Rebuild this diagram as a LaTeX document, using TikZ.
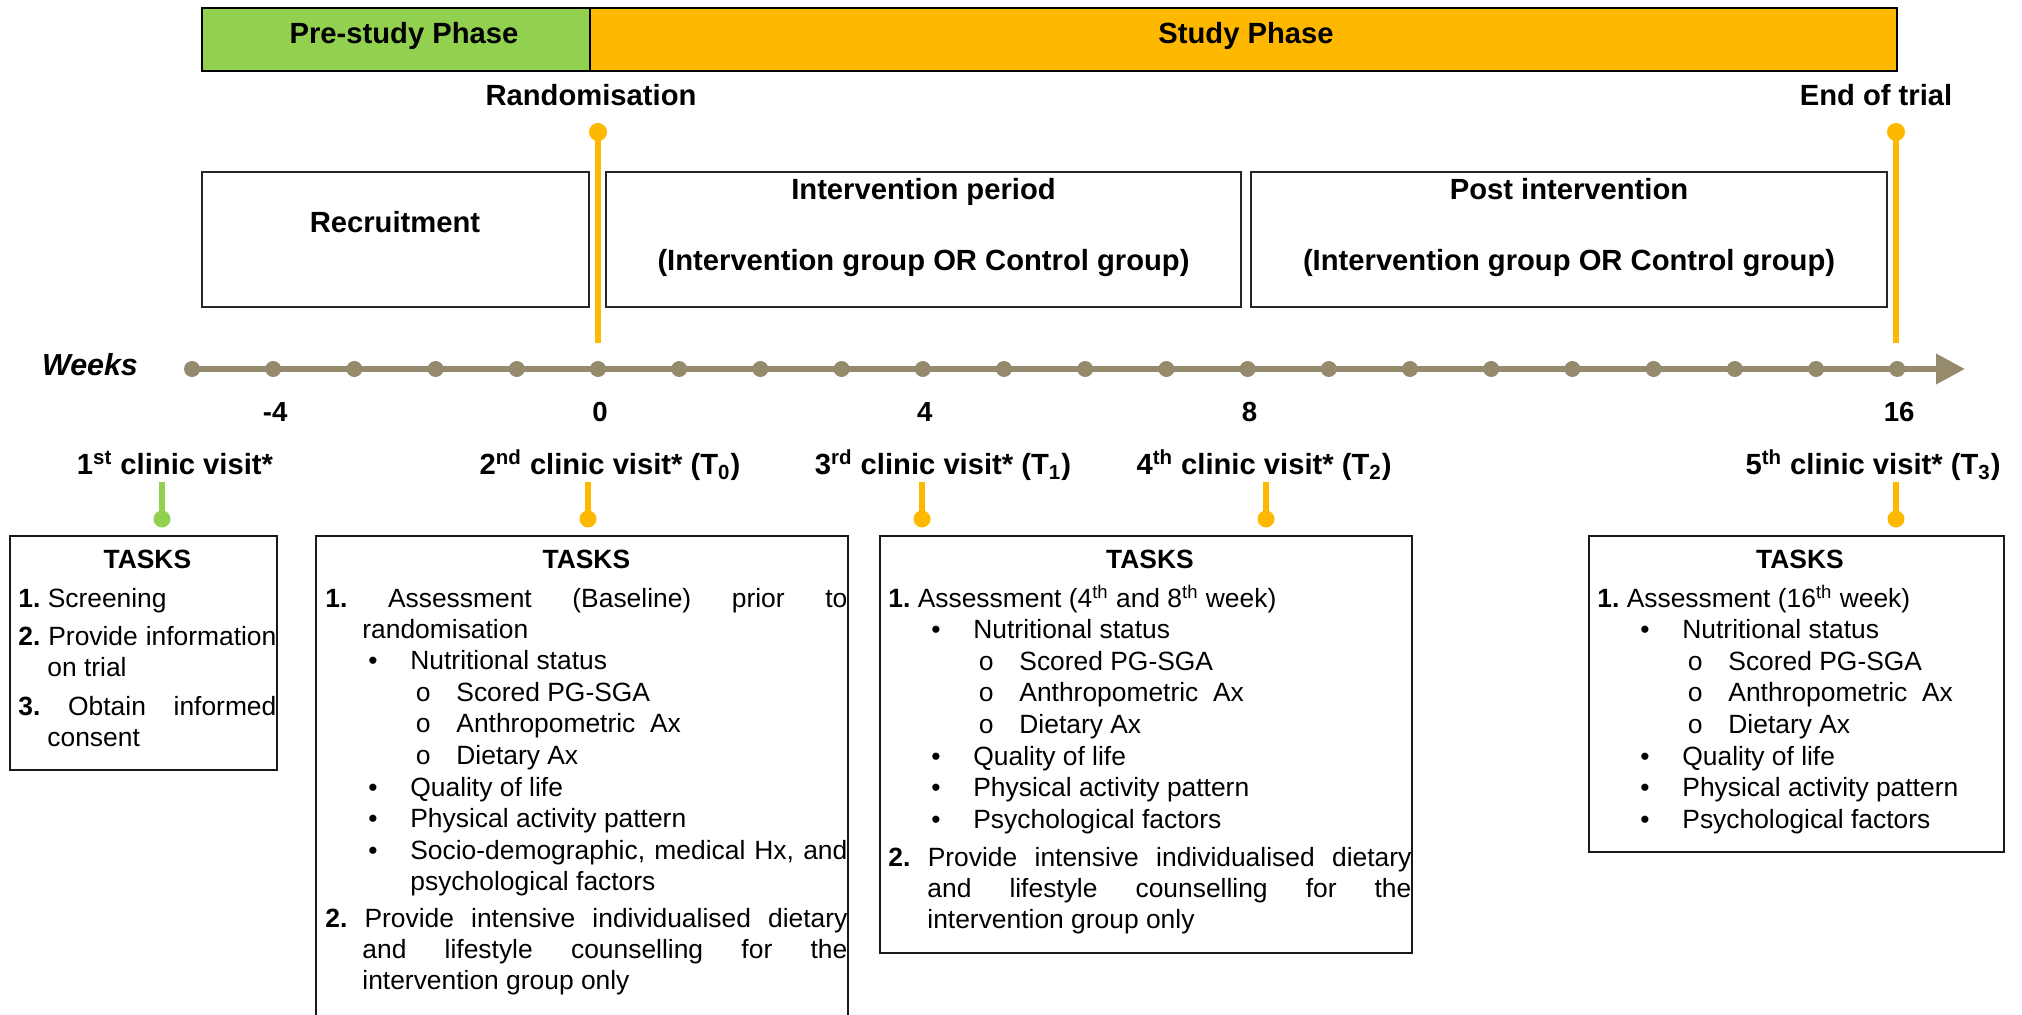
\documentclass[tikz,border=0pt]{standalone}
\usepackage{fontspec}
\setmainfont{Liberation Sans}
\newfontfamily\ringfont{Liberation Mono}
\usepackage{xcolor}
\usetikzlibrary{arrows.meta,positioning,fit}
\definecolor{pregreen}{RGB}{146,208,80}
\definecolor{studygold}{RGB}{255,184,0}
\definecolor{weektan}{RGB}{150,138,108}
\newlength{\numhang}
\newcommand{\taskfmt}{\fontsize{13.2pt}{15.5pt}\selectfont\parskip=0.3pt\leftskip=0pt\rightskip=0pt\spaceskip=0pt\xspaceskip=0pt\parfillskip=0pt plus 1fil\tolerance=9999\hbadness=10000\hyphenpenalty=10000\exhyphenpenalty=10000}
\newcommand{\tasktitle}{{\centering\bfseries TASKS\par}}
\newcommand{\numtask}[3][0pt]{\par\vspace{#1}\hangindent=\numhang\hangafter=1\noindent\textbf{#2}\ #3\par}
\newcommand{\bultask}[1]{\par\hangindent=42.5pt\hangafter=0\noindent\llap{\makebox[21pt][l]{\textbullet}}#1\par}
\newcommand{\cirtask}[1]{\par\hangindent=65.5pt\hangafter=0\noindent\llap{\makebox[20.5pt][l]{\ringfont o}}#1\par}

\begin{document}
\begin{tikzpicture}[x=0.5pt,y=-0.5pt,
  phasebox/.style={draw=black,line width=0.8pt,inner sep=0pt},
  periodbox/.style={draw=black!85,line width=1pt,inner sep=0pt},
  taskbox/.style={draw=black!90,line width=1pt,inner sep=0pt},
  headtext/.style={font=\fontsize{14.6pt}{17pt}\selectfont\bfseries,inner sep=0pt,anchor=base},
  weektext/.style={font=\fontsize{13.8pt}{16pt}\selectfont\bfseries,inner sep=0pt,anchor=base},
  tasktext/.style={inner sep=0pt,anchor=base west},
  tdot/.style={circle,fill=weektan,inner sep=0pt,minimum size=8pt},
  pindot/.style={circle,inner sep=0pt,minimum size=8.5pt},
  pinline/.style={line width=2.8pt}]
\useasboundingbox (0,0) rectangle (2022,1015);
\clip (0,0) rectangle (2022,1015);

% phase bar
\node[phasebox,fill=pregreen,fit={(202,8) (590,71)}] (pre) {};
\node[phasebox,fill=studygold,fit={(590,8) (1897,71)}] (study) {};
\node[headtext] (pretxt) at (404,43.5) {Pre-study Phase};
\node[headtext] (studytxt) at (1246,43.5) {Study Phase};

% milestones
\node[headtext] (rand) at (591,106) {Randomisation};
\node[headtext] (endtrial) at (1876,106) {End of trial};
\coordinate (randtop) at (598,132);
\coordinate (randfoot) at (598,343);
\coordinate (endtop) at (1896,132);
\coordinate (endfoot) at (1896,343);
\draw[pinline,studygold] (randtop) -- (randfoot);
\draw[pinline,studygold] (endtop) -- (endfoot);
\node[pindot,fill=studygold,minimum size=9pt] (randdot) at (randtop) {};
\node[pindot,fill=studygold,minimum size=9pt] (enddot) at (endtop) {};

% periods
\node[periodbox,fit={(202,172) (589,307)}] (recruit) {};
\node[headtext] (recruittxt) at (395,232.7) {Recruitment};
\node[periodbox,fit={(606,172) (1241,307)}] (interv) {};
\node[headtext] (intervtxt) at (923.5,199.3) {Intervention period};
\node[headtext] (intervgrp) at (923.5,271) {(Intervention group OR Control group)};
\node[periodbox,fit={(1251,172) (1887,307)}] (post) {};
\node[headtext] (posttxt) at (1569,199.3) {Post intervention};
\node[headtext] (postgrp) at (1569,271) {(Intervention group OR Control group)};

% week axis
\node[headtext,font=\fontsize{15.2pt}{18pt}\selectfont\bfseries\itshape] (weeks) at (90,376) {Weeks};
\foreach \w [count=\i] in {-5,...,16}
  \node[tdot] (d\i) at ({598+81.2*\w},369) {};
\coordinate (tip) at (1965,369);
\draw[weektan,line width=3.35pt,-{Triangle[length=14.5pt,width=14.5pt]}] (d1.center) -- (tip);
\foreach \w [count=\j] in {-4,0,4,8,16}
  \node[weektext] (num\j) at ({600+81.2*\w},421.7) {\w};

% clinic visits
\node[headtext] (v1) at (175,475) {1\textsuperscript{st} clinic visit*};
\node[headtext] (v2) at (610,475) {2\textsuperscript{nd} clinic visit* (T\textsubscript{0})};
\node[headtext] (v3) at (943,475) {3\textsuperscript{rd} clinic visit* (T\textsubscript{1})};
\node[headtext] (v4) at (1264,475) {4\textsuperscript{th} clinic visit* (T\textsubscript{2})};
\node[headtext] (v5) at (1873,475) {5\textsuperscript{th} clinic visit* (T\textsubscript{3})};
\foreach \x/\c [count=\k] in {162/pregreen,588/studygold,922/studygold,1266/studygold,1896/studygold}{
  \coordinate (pt\k) at (\x,482);
  \coordinate (pb\k) at (\x,519);
  \draw[pinline,\c] (pt\k) -- (pb\k);
  \node[pindot,fill=\c] (pd\k) at (pb\k) {};
}

% task boxes
\node[taskbox,fit={(10,536) (277,770)}] (tasks1) {};
\node[tasktext,text width=129pt] (list1) at (18,568) {\taskfmt\setlength{\numhang}{14.5pt}\tasktitle
  \numtask[3.75pt]{1.}{Screening}
  \numtask[3.5pt]{2.}{Provide information\linebreak on trial}
  \numtask[3.5pt]{3.}{Obtain informed\linebreak consent}};

\node[taskbox,fit={(316,536) (848,1040)}] (tasks2) {};
\node[tasktext,text width=261pt] (list2) at (325,568) {\taskfmt\setlength{\numhang}{18.5pt}\tasktitle
  \numtask[3.75pt]{1.}{Assessment (Baseline) prior to\linebreak randomisation}
  \bultask{Nutritional status}
  \cirtask{Scored PG-SGA}
  \cirtask{Anthropometric\ \ Ax}
  \cirtask{Dietary Ax}
  \bultask{Quality of life}
  \bultask{Physical activity pattern}
  \bultask{Socio-demographic, medical Hx, and\linebreak psychological factors}
  \numtask[3pt]{2.}{Provide intensive individualised dietary\linebreak and lifestyle counselling for the\linebreak intervention group only}};

\node[taskbox,fit={(880,536) (1412,953)}] (tasks3) {};
\node[tasktext,text width=261.5pt] (list3) at (888,568) {\taskfmt\setlength{\numhang}{19.5pt}\tasktitle
  \numtask[3.75pt]{1.}{Assessment (4\textsuperscript{th} and 8\textsuperscript{th} week)}
  \bultask{Nutritional status}
  \cirtask{Scored PG-SGA}
  \cirtask{Anthropometric\ \ Ax}
  \cirtask{Dietary Ax}
  \bultask{Quality of life}
  \bultask{Physical activity pattern}
  \bultask{Psychological factors}
  \numtask[3.5pt]{2.}{Provide intensive individualised dietary\linebreak and lifestyle counselling for the\linebreak intervention group only}};

\node[taskbox,fit={(1589,536) (2004,852)}] (tasks4) {};
\node[tasktext,text width=202.5pt] (list4) at (1597,568) {\taskfmt\setlength{\numhang}{15pt}\tasktitle
  \numtask[3.75pt]{1.}{Assessment (16\textsuperscript{th} week)}
  \bultask{Nutritional status}
  \cirtask{Scored PG-SGA}
  \cirtask{Anthropometric\ \ Ax}
  \cirtask{Dietary Ax}
  \bultask{Quality of life}
  \bultask{Physical activity pattern}
  \bultask{Psychological factors}};
\end{tikzpicture}
\end{document}
